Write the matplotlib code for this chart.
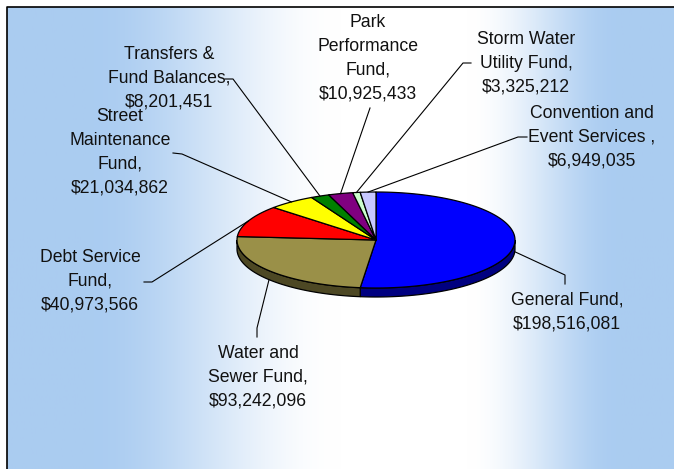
import numpy as np
import matplotlib
matplotlib.use("Agg")
import matplotlib.pyplot as plt
from matplotlib.patches import Polygon
from matplotlib.colors import LinearSegmentedColormap

# --- data (clockwise from 12 o'clock) ---
funds = ["General Fund", "Water and Sewer Fund", "Debt Service Fund",
         "Street Maintenance Fund", "Transfers & Fund Balances",
         "Park Performance Fund", "Storm Water Utility Fund",
         "Convention and Event Services"]
amounts = [198516081, 93242096, 40973566, 21034862, 8201451,
           10925433, 3325212, 6949035]
label_texts = ["General Fund,\n$198,516,081",
               "Water and\nSewer Fund,\n$93,242,096",
               "Debt Service\nFund,\n$40,973,566",
               "Street\nMaintenance\nFund,\n$21,034,862",
               "Transfers &\nFund Balances,\n$8,201,451",
               "Park\nPerformance\nFund,\n$10,925,433",
               "Storm Water\nUtility Fund,\n$3,325,212",
               "Convention and\nEvent Services ,\n$6,949,035"]
colors = ["#0000FF", "#9A9048", "#FF0000", "#FFFF00", "#008000",
          "#800080", "#CCFFCC", "#C8C8FF"]

# --- layout (pixels) ---
W, H = 674, 469
CX, CY, A, B, DEPTH = 376, 240, 139, 48, 9
label_pos = [(567, 312), (258, 377), (90, 281), (120, 152), (169, 78),
             (368, 58), (526, 63), (592, 137)]
# (elbow point, end point) of each leader line
leaders = [((565, 275), (565, 284)), ((257, 328), (257, 337)),
           ((152, 282), (144, 282)), ((182, 154), (173, 153)),
           ((233, 79), (225, 79)), ((370, 108), (370, 108)),
           ((463, 63), (471, 63)), ((518, 137), (527, 137))]

fig = plt.figure(figsize=(W / 100, H / 100), dpi=100)
ax = fig.add_axes([0, 0, 1, 1])
ax.set_xlim(0, W)
ax.set_ylim(H, 0)
ax.axis("off")

# background gradient (blue - white - blue), smoothed
blue = np.array([0.667, 0.800, 0.945])
xs = np.linspace(0, 1, 600)
k = np.interp(xs, [0.0, 0.12, 0.50, 0.69, 0.92, 1.0],
              [1.0, 1.0, 0.0, 0.0, 1.0, 1.0])
k = k * k * (3 - 2 * k)
bg = 1 - k[:, None] * (1 - blue[None, :])
cmap = LinearSegmentedColormap.from_list("bg", list(bg), N=600)
ax.imshow(xs[None, :], cmap=cmap, aspect="auto", extent=(7, W, H, 7),
          zorder=0)
ax.plot([7, 7, W], [H, 7, 7], color="black", lw=1.2, zorder=1)


def pt(theta, dz=0):
    return CX + A * np.cos(theta), CY - B * np.sin(theta) + dz


def shade(c):
    r, g, b = matplotlib.colors.to_rgb(c)
    return (r * 0.5, g * 0.5, b * 0.5)


fracs = np.array(amounts) / np.sum(amounts)
cw = np.concatenate([[0], np.cumsum(fracs) * 2 * np.pi])
starts = np.pi / 2 - cw[:-1]
ends = np.pi / 2 - cw[1:]

# sides (front half only)
for s, e, c in zip(starts, ends, colors):
    for shift in (0, 2 * np.pi, -2 * np.pi):
        a0 = max(e + shift, -np.pi)
        a1 = min(s + shift, 0)
        if a1 > a0:
            t = np.linspace(a0, a1, 80)
            x, y = pt(t)
            xb, yb = pt(t[::-1], DEPTH)
            poly = Polygon(np.column_stack([np.r_[x, xb], np.r_[y, yb]]),
                           facecolor=shade(c), edgecolor="black", lw=0.9,
                           zorder=2)
            ax.add_patch(poly)

# top faces
for s, e, c in zip(starts, ends, colors):
    t = np.linspace(s, e, 120)
    x, y = pt(t)
    poly = Polygon(np.column_stack([np.r_[CX, x], np.r_[CY, y]]),
                   facecolor=c, edgecolor="black", lw=0.9, zorder=3,
                   joinstyle="round")
    ax.add_patch(poly)

# labels and leader lines
for s, e, txt, (lx, ly), (elb, end) in zip(starts, ends, label_texts,
                                           label_pos, leaders):
    mid = (s + e) / 2
    px, py = pt(mid, DEPTH if np.sin(mid) < 0 else 0)
    ax.plot([px, elb[0], end[0]], [py, elb[1], end[1]], color="black",
            lw=0.8, zorder=4)
    ax.text(lx, ly, txt, ha="center", va="center", multialignment="center",
            fontsize=12.7, family="Liberation Sans", color="#111111",
            linespacing=1.53, zorder=5)

fig.savefig("out.png", dpi=100)
